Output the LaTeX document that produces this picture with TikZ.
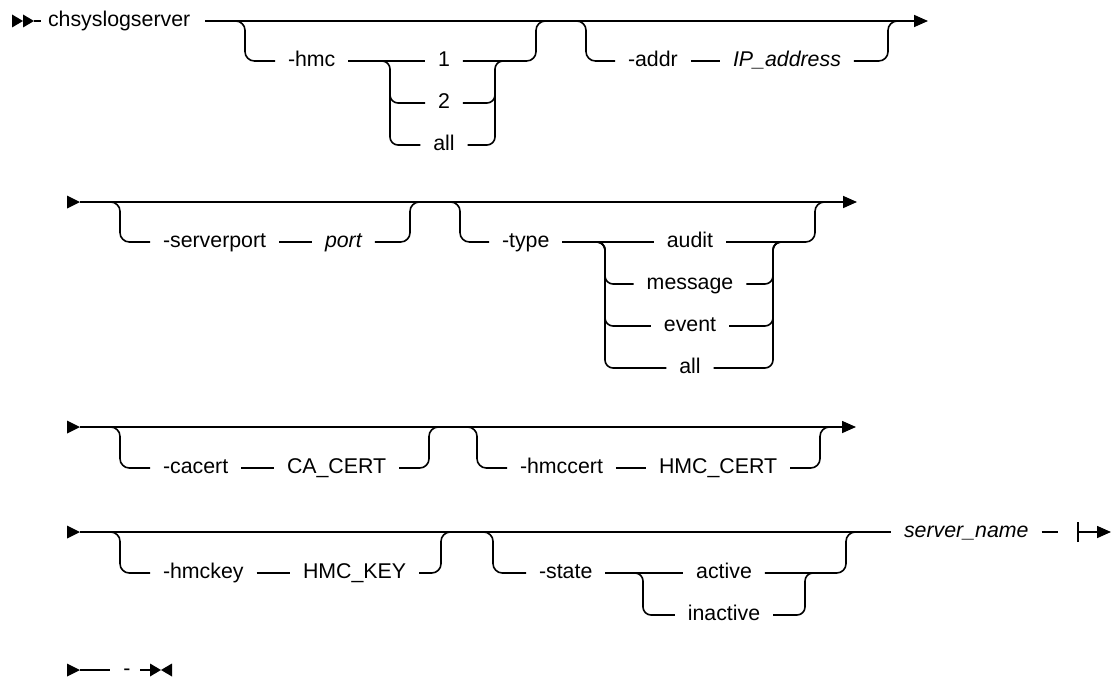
\documentclass[tikz,border=0pt]{standalone}
\usepackage{fontspec}
\setmainfont{Liberation Sans}
\usetikzlibrary{arrows.meta}
\begin{document}
\begin{tikzpicture}[x=0.75pt,y=-0.75pt, line width=1.2pt,
  t/.style={font=\fontsize{16}{19}\selectfont, inner xsep=9.75pt, inner ysep=0pt, outer sep=0pt,
            text height=11.5pt, text depth=3.1pt, anchor=west},
  ti/.style={t, font=\fontsize{16}{19}\selectfont\itshape},
  ch/.style={t, anchor=center},
  br/.style={rounded corners=7pt},
  colbr/.style={rounded corners=6pt},
  endarrow/.style={-{Triangle[length=10.5pt,width=9pt]}},
]
\useasboundingbox (0,0) rectangle (1112,681);

% ---------- Row 1 ----------
\fill (12,14.5) -- (23,21) -- (12,27.5) -- cycle;
\fill (23,14.5) -- (34,21) -- (23,27.5) -- cycle;
\coordinate (r1s) at (34,21);
\coordinate (r1sb) at (41,21);
\draw (r1s) -- (r1sb);
\node[t, inner xsep=0pt] (cmd) at (48,21) {chsyslogserver};
\coordinate (r1a) at (205,21);
\coordinate (r1e) at (928,21);
\draw[endarrow] (r1a) -- (r1e);

\node[t] (hmc) at (275,61) {-hmc};
\draw[br] (235,21) -- (245,21) -- (245,61) -- (hmc.west);
\node[ch] (h1) at (444,61) {1};
\node[ch] (h2) at (444,103) {2};
\node[ch] (h3) at (444,145) {all};
\draw (hmc.east) -- (h1.west);
\draw[colbr] (381,61) -- (390,61) -- (390,103) -- (h2.west);
\draw[colbr] (390,90) -- (390,145) -- (h3.west);
\draw[colbr] (h2.east) -- (495,103) -- (495,61) -- (504,61);
\draw[colbr] (h3.east) -- (495,145) -- (495,90);
\draw[br] (h1.east) -- (536,61) -- (536,21) -- (546,21);

\node[t] (addr) at (615,61) {-addr};
\node[ti] (ip) at (720,61) {IP\_address};
\draw[br] (577,21) -- (586,21) -- (586,61) -- (addr.west);
\draw (addr.east) -- (ip.west);
\draw[br] (ip.east) -- (888,61) -- (888,21) -- (898,21);

% ---------- Row 2 ----------
\fill (67,195.5) -- (80,202) -- (67,208.5) -- cycle;
\coordinate (r2s) at (80,202);
\coordinate (r2e) at (857,202);
\draw[endarrow] (r2s) -- (r2e);
\node[t] (sp) at (150,242) {-serverport};
\node[ti] (port) at (312,242) {port};
\draw[br] (110,202) -- (120,202) -- (120,242) -- (sp.west);
\draw (sp.east) -- (port.west);
\draw[br] (port.east) -- (410,242) -- (410,202) -- (420,202);

\node[t] (type) at (489,242) {-type};
\draw[br] (450,202) -- (460,202) -- (460,242) -- (type.west);
\node[ch] (ta) at (690,242) {audit};
\node[ch] (tm) at (690,284) {message};
\node[ch] (te) at (690,326) {event};
\node[ch] (tl) at (690,368) {all};
\draw (type.east) -- (ta.west);
\foreach \n/\y in {tm/284,te/326,tl/368} {
  \draw[colbr] (596,242) -- (605,242) -- (605,\y) -- (\n.west);
  \draw[colbr] (\n.east) -- (773,\y) -- (773,242) -- (782,242);
}
\draw[br] (ta.east) -- (815,242) -- (815,202) -- (825,202);

% ---------- Row 3 ----------
\fill (67,420.5) -- (80,427) -- (67,433.5) -- cycle;
\coordinate (r3s) at (80,427);
\coordinate (r3e) at (856,427);
\draw[endarrow] (r3s) -- (r3e);
\node[t] (ca) at (150,468) {-cacert};
\node[t] (cac) at (274,468) {CA\_CERT};
\draw[br] (110,427) -- (120,427) -- (120,468) -- (ca.west);
\draw (ca.east) -- (cac.west);
\draw[br] (cac.east) -- (429,468) -- (429,427) -- (439,427);

\node[t] (hc) at (507,468) {-hmccert};
\node[t] (hcc) at (646,468) {HMC\_CERT};
\draw[br] (467,427) -- (477,427) -- (477,468) -- (hc.west);
\draw (hc.east) -- (hcc.west);
\draw[br] (hcc.east) -- (820,468) -- (820,427) -- (830,427);

% ---------- Row 4 ----------
\fill (67,525.5) -- (80,532) -- (67,538.5) -- cycle;
\coordinate (r4s) at (80,532);
\node[ti] (sn) at (891,532) {server\_name};
\draw (r4s) -- (sn.west);
\node[t] (hk) at (150,573) {-hmckey};
\node[t] (hkk) at (290,573) {HMC\_KEY};
\draw[br] (110,532) -- (120,532) -- (120,573) -- (hk.west);
\draw (hk.east) -- (hkk.west);
\draw[br] (hkk.east) -- (441,573) -- (441,532) -- (451,532);

\node[t] (st) at (526,573) {-state};
\draw[br] (483,532) -- (493,532) -- (493,573) -- (st.west);
\node[ch] (sa) at (724,573) {active};
\node[ch] (si) at (724,615) {inactive};
\draw (st.east) -- (sa.west);
\draw[colbr] (634,573) -- (643,573) -- (643,615) -- (si.west);
\draw[colbr] (si.east) -- (805,615) -- (805,573) -- (814,573);
\draw[br] (sa.east) -- (846,573) -- (846,532) -- (856,532);

\coordinate (r4a) at (1058,532);
\coordinate (bar) at (1078,532);
\coordinate (r4e) at (1111,532);
\draw (sn.east) -- (r4a);
\draw ([yshift=-7.5pt]bar) -- ([yshift=7.5pt]bar);
\draw[endarrow] (bar) -- (r4e);

% ---------- Row 5 ----------
\fill (67,663.5) -- (80,670) -- (67,676.5) -- cycle;
\coordinate (r5s) at (80,670);
\coordinate (r5a) at (110,670);
\draw (r5s) -- (r5a);
\node[ch, inner xsep=0pt] (dash) at (127,670) {-};
\coordinate (r5b) at (140,670);
\coordinate (r5c) at (151,670);
\draw (r5b) -- (r5c);
\fill (150,663.5) -- (161,670) -- (150,676.5) -- cycle;
\fill (172,663.5) -- (161,670) -- (172,676.5) -- cycle;
\end{tikzpicture}
\end{document}
